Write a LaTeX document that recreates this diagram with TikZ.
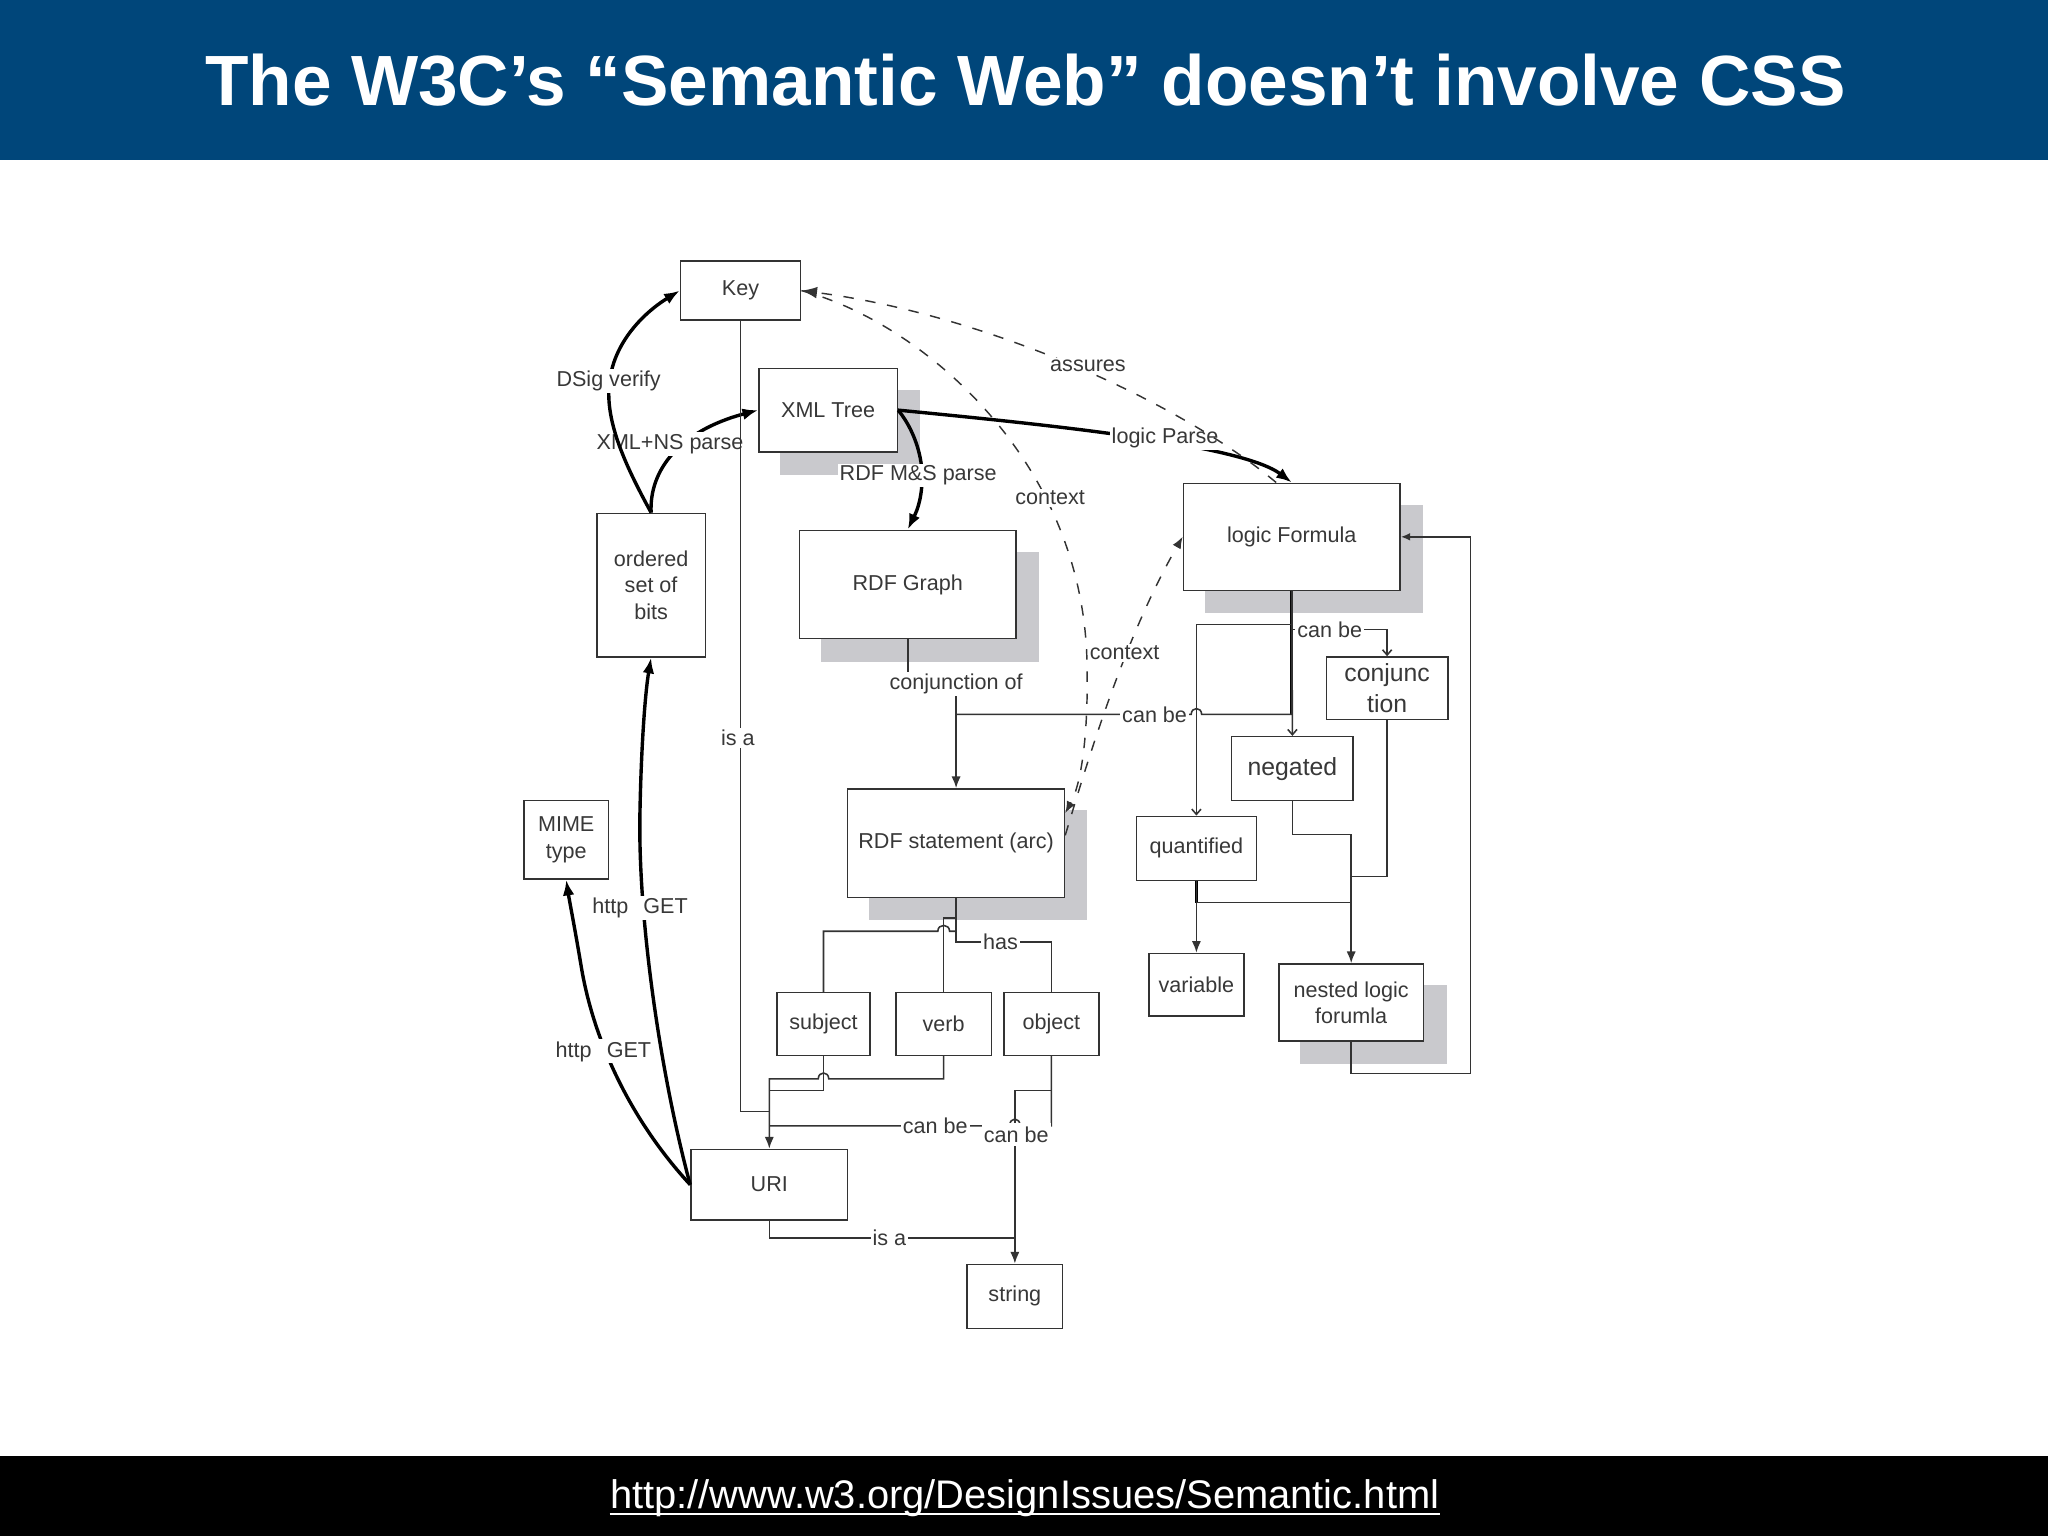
\documentclass[tikz,border=0pt]{standalone}
\usepackage{fontspec}
\setmainfont{Liberation Sans}
\usetikzlibrary{arrows.meta,backgrounds,calc}
\definecolor{barblue}{HTML}{00467A}
\definecolor{linec}{HTML}{333333}
\definecolor{txtc}{HTML}{383838}
\definecolor{shadc}{HTML}{C9C9CD}
\tikzset{
 box/.style={draw=linec, line width=0.68pt, fill=white, inner sep=0pt, align=center, text=txtc, font=\fontsize{9.4pt}{11.4pt}\selectfont},
 sz/.style 2 args={minimum width=#1*0.569pt, minimum height=#2*0.569pt},
 bigfont/.style={font=\fontsize{10.8pt}{13.6pt}\selectfont},
 lbl/.style={fill=white, inner sep=0.85pt, text=txtc, font=\fontsize{9.4pt}{11.4pt}\selectfont},
 thin/.style={draw=linec, line width=0.68pt},
 thk/.style={draw=black, line width=1.48pt},
 dsh/.style={draw=linec, line width=0.63pt, dash pattern=on 4.55pt off 5.1pt},
 bigarrow/.style={-{Latex[length=6.8pt,width=5.1pt]}},
 midarrow/.style={-{Latex[length=5.1pt,width=4pt]}},
 smallarrow/.style={-{Straight Barb[length=2.3pt,width=4pt]}},
}
\begin{document}
\begin{tikzpicture}[x=0.02cm,y=-0.02cm]
\useasboundingbox (0,0) rectangle (1568,1176);
% bars
\fill[barblue] (0,0) rectangle (1568,122.5);
\node[anchor=base, inner sep=0pt, text=white] (title) at (785,81)
  {\resizebox{25.12cm}{!}{\bfseries The W3C’s “Semantic Web” doesn’t involve CSS}};
\fill[black] (0,1115) rectangle (1568,1176);
\node[anchor=base, inner sep=0pt, text=white] (url) at (784.5,1155)
  {\resizebox{12.7cm}{!}{http://www.w3.org/DesignIssues/Semantic.html}};
\draw[white, line width=1.1pt] ([yshift=-2.3pt]url.base west) -- ([yshift=-2.3pt]url.base east);

% nodes
\node[box,sz={92}{45}] (key) at (567,222.5) {Key};
\node[box,sz={106}{64}] (xml) at (634,314) {XML Tree};
\node[box,sz={83}{110}] (bits) at (498.5,448) {ordered\\set of\\bits};
\node[box,sz={166}{83}] (graph) at (695,447.5) {RDF Graph};
\node[box,sz={166}{82}] (formula) at (989,411) {logic Formula};
\node[box,sz={65}{60}] (mime) at (433.5,643) {MIME\\type};
\node[box,sz={166}{83}] (stmt) at (732,645.5) {RDF statement (arc)};
\node[box,bigfont,sz={93}{48}] (conj) at (1062,527) {conjunc\\tion};
\node[box,bigfont,sz={93}{49}] (neg) at (989.5,588.5) {negated};
\node[box,sz={92}{49}] (quant) at (916,649.5) {quantified};
\node[box,sz={73}{48}] (var) at (916,754) {variable};
\node[box,sz={111}{59}] (nested) at (1034.5,767.5) {nested logic\\forumla};
\node[box,sz={71}{48}] (subj) at (630.5,784) {subject};
\node[box,sz={73}{48}] (verb) at (722.5,784) {verb};
\node[box,sz={73}{48}] (obj) at (805,784) {object};
\node[box,sz={120}{54}] (uri) at (589,907) {URI};
\node[box,sz={73}{49}] (str) at (777,992.5) {string};

\begin{scope}[on background layer]
 \fill[white] (0,122.5) rectangle (1568,1115);
 \foreach \n in {xml,graph,formula,stmt,nested}
   \fill[shadc] ([shift={(17,17)}]\n.south west) rectangle ([shift={(17,17)}]\n.north east);
\end{scope}

% XML+NS parse
\draw[thk,bigarrow] (bits.north) .. controls (497,360) and (520,330) .. (xml.west);
\node[lbl] (lxmlns) at (513,340) {XML+NS parse};
% DSig verify
\draw[thk,bigarrow] (bits.north) .. controls (478,355) and (462,320) .. (467,290) .. controls (471,262) and (492,240) .. (key.west);
\node[lbl] (ldsig) at (466,292) {DSig verify};

% Key is a URI
\draw[thin] (key.south) |- (589,851);
\node[lbl] (lisa1) at (565,565) {is a};

% RDF M&S parse
\draw[thk,bigarrow] (xml.east) .. controls (697,325) and (706,345) .. (706,365) .. controls (706,385) and (700,395) .. (graph.north);
\node[lbl] (lrdfms) at (703,364) {RDF M\&S parse};
% logic Parse
\draw[thk,bigarrow] (xml.east) .. controls (800,325) and (950,340) .. (formula.north);
\node[lbl] (llogic) at (892,335) {logic Parse};

% assures
\draw[dsh,bigarrow] ([xshift=-6.8pt]formula.north) .. controls (900,305) and (750,240) .. (key.east);
\node[lbl] (lassures) at (833,280) {assures};
% context 1
\draw[dsh,midarrow] (key.east) .. controls (700,245) and (825,345) .. (832,500) .. controls (834,560) and (828,600) .. ([yshift=13.1pt]stmt.east);
\node[lbl] (lctx1) at (804,381) {context};
% context 2
\draw[dsh,midarrow] ([yshift=3.4pt]stmt.east) .. controls (832,585) and (860,490) .. (formula.west);
\node[lbl] (lctx2) at (861,500) {context};

% RDF Graph conjunction of -> statement
\draw[thin,midarrow] (graph.south) -- (695,524) -- (732,524) -- (stmt.north);
\node[lbl] (lconjof) at (732,524) {conjunction of};

% logic formula can be ...
\draw[thk] (formula.south) -- (989,547);
\draw[thin] (formula.south) -- (989,547) -- (920,547) .. controls (920,541) and (912,541) .. (912,547) -- (732,547);
\node[lbl] (lcanbe1) at (884,547) {can be};
\draw[thin,smallarrow] (formula.south) -- (neg.north);
\draw[thin,smallarrow] (formula.south) -- (989,478) -| (quant.north);
\draw[thin,smallarrow] (formula.south) -- (989,482) -| (conj.north);
\node[lbl] (lcanbe2) at (1018,482) {can be};

% to nested logic formula
\draw[thin,midarrow] (neg.south) -- (989.5,639) -| (nested.north);
\draw[thin] (conj.south) |- (1034.5,671);
\draw[thk] (quant.south) -- (916,691);
\draw[thin,midarrow] (quant.south) -- (916,691) -- (var.north);
\draw[thin] (quant.south) |- (1034.5,691);
\draw[thin,-{Latex[length=4pt,width=3.4pt]}] (nested.south) -- (1034.5,822) -| (1126,411) -- (formula.east);

% statement has subject / verb / object
\draw[thin] (stmt.south) -- (732,721) -| (obj.north);
\node[lbl] (lhas) at (766,721) {has};
\draw[thin] (stmt.south) -- (732,703) -| (verb.north);
\draw[thin] (stmt.south) -- (732,713) -- (727,713) .. controls (727,707) and (718,707) .. (718,713) -| (subj.north);

% subject / verb to URI
\draw[thin] (subj.south) |- (589,835);
\draw[thin,midarrow] (verb.south) |- (634.5,826) .. controls (634.5,820) and (626.5,820) .. (626.5,826) -- (589,826) -- (uri.north);

% object can be URI / string
\draw[thin] (obj.south) -- (805,862) -- (781,862) .. controls (781,855) and (773,855) .. (773,862) -- (589,862);
\node[lbl] (lcanbe3) at (716,862) {can be};
\draw[thin,midarrow] (obj.south) -- (805,835) -| (str.north);
\node[lbl,anchor=north,inner ysep=1.5pt] (lcanbe4) at (778,859.5) {can be};

% URI is a string
\draw[thin] (uri.south) |- (777,948);
\node[lbl] (lisa2) at (681,948) {is a};

% http GET
\draw[thk,bigarrow] (uri.west) .. controls (505,820) and (488,700) .. (490,620) .. controls (491,570) and (494,530) .. (bits.south);
\node[lbl] (lhttp1) at (490,695) {http\hspace{0.7em}GET};
\draw[thk,bigarrow] (uri.west) .. controls (485,860) and (455,800) .. (445,740) .. controls (440,710) and (436,690) .. (mime.south);
\node[lbl] (lhttp2) at (462,805) {http\hspace{0.7em}GET};
\end{tikzpicture}
\end{document}
